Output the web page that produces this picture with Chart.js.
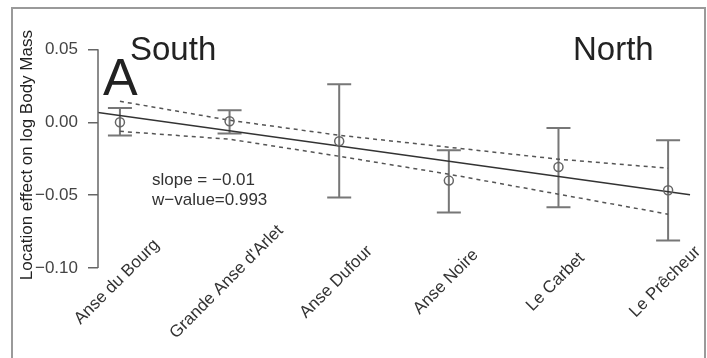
<!DOCTYPE html>
<html>
<head>
<meta charset="utf-8">
<script src="https://cdn.jsdelivr.net/npm/chart.js@4/dist/chart.umd.min.js"></script>
<style>
  html, body { margin: 0; padding: 0; background: #fff; }
</style>
</head>
<body>
<canvas id="chart" width="707" height="358"></canvas>
<script>
// sites, south to north
const sites = ['Anse du Bourg', "Grande Anse d'Arlet", 'Anse Dufour', 'Anse Noire', 'Le Carbet', 'Le Prêcheur'];

// location effect and its error bar ends
const means = [0.000, 0.0007, -0.013, -0.040, -0.0307, -0.0466];
const barHigh = [0.0098, 0.0082, 0.0261, -0.0191, -0.0039, -0.0123];
const barLow = [-0.0091, -0.0077, -0.0516, -0.0618, -0.0582, -0.081];

// regression line (ends) and its confidence band
const fitX = [-0.2, 5.2];
const fitY = [0.0068, -0.0497];
const bandHigh = [0.0144, 0.0014, -0.0089, -0.0171, -0.0253, -0.0315];
const bandLow = [-0.0062, -0.0116, -0.0233, -0.0356, -0.0493, -0.0630];

const yTicks = [-0.10, -0.05, 0, 0.05];
const yTickLabels = ['\u22120.10', '\u22120.05', '0.00', '0.05'];

const FONT = '"Liberation Sans", Arial, Helvetica, sans-serif';

const toPoints = (xs, ys) => ys.map((y, i) => ({ x: xs[i], y }));
const idx = sites.map((_, i) => i);

// 외곽선, 에러바, 축선, 글자
const decorations = {
  id: 'decorations',
  beforeDraw(chart) {
    const ctx = chart.ctx;
    ctx.save();
    ctx.strokeStyle = '#9a9a9a';
    ctx.lineWidth = 2;
    ctx.strokeRect(12, 8, 693, 360);
    ctx.restore();
  },
  beforeDatasetsDraw(chart) {
    const { ctx, scales: { x, y } } = chart;
    ctx.save();
    ctx.strokeStyle = '#777';
    ctx.lineWidth = 2;
    idx.forEach(i => {
      const px = x.getPixelForValue(i);
      const top = y.getPixelForValue(barHigh[i]);
      const bot = y.getPixelForValue(barLow[i]);
      ctx.beginPath();
      ctx.moveTo(px, top); ctx.lineTo(px, bot);
      ctx.moveTo(px - 12, top); ctx.lineTo(px + 12, top);
      ctx.moveTo(px - 12, bot); ctx.lineTo(px + 12, bot);
      ctx.stroke();
    });
    ctx.restore();
  },
  afterDraw(chart) {
    const { ctx, scales: { x, y } } = chart;
    ctx.save();
    // y axis line only over the tick range
    ctx.strokeStyle = '#666';
    ctx.lineWidth = 1.5;
    ctx.beginPath();
    ctx.moveTo(98, y.getPixelForValue(0.05));
    ctx.lineTo(98, y.getPixelForValue(-0.10));
    ctx.stroke();

    // rotated site labels
    ctx.fillStyle = '#333';
    ctx.font = '17px ' + FONT;
    ctx.textAlign = 'center';
    ctx.textBaseline = 'middle';
    sites.forEach((s, i) => {
      ctx.save();
      ctx.translate(x.getPixelForValue(i) - 3, 282);
      ctx.rotate(-Math.PI / 4);
      ctx.fillText(s, 0, 0);
      ctx.restore();
    });

    ctx.textAlign = 'left';
    ctx.textBaseline = 'alphabetic';
    ctx.fillStyle = '#222';
    ctx.font = '33px ' + FONT;
    ctx.fillText('South', 130, 60);
    ctx.fillText('North', 573, 60);
    ctx.font = '52px ' + FONT;
    ctx.fillText('A', 103, 95);

    ctx.fillStyle = '#333';
    ctx.font = '17px ' + FONT;
    ctx.fillText('slope = \u22120.01', 152, 185);
    ctx.fillText('w\u2212value=0.993', 152, 205);
    ctx.restore();
  }
};

new Chart(document.getElementById('chart'), {
  type: 'scatter',
  data: {
    datasets: [
      {
        data: toPoints(idx, means),
        pointRadius: 4.5,
        pointBorderWidth: 1.5,
        pointBorderColor: '#666',
        pointBackgroundColor: 'rgba(0,0,0,0)'
      },
      {
        data: toPoints(fitX, fitY),
        showLine: true,
        pointRadius: 0,
        borderColor: '#333',
        borderWidth: 1.5
      },
      {
        data: toPoints(idx, bandHigh),
        showLine: true,
        pointRadius: 0,
        borderColor: '#555',
        borderWidth: 1.5,
        borderDash: [4, 4]
      },
      {
        data: toPoints(idx, bandLow),
        showLine: true,
        pointRadius: 0,
        borderColor: '#555',
        borderWidth: 1.5,
        borderDash: [4, 4]
      }
    ]
  },
  options: {
    responsive: false,
    animation: false,
    layout: { padding: { top: 18.67, bottom: 68, left: 0, right: 5 } },
    plugins: { legend: { display: false }, tooltip: { enabled: false } },
    scales: {
      x: { type: 'linear', display: false, min: -0.2, max: 5.3 },
      y: {
        min: -0.115,
        max: 0.07,
        afterFit: scale => { scale.width = 98; },
        afterBuildTicks: scale => { scale.ticks = yTicks.map(v => ({ value: v })); },
        border: { display: false },
        grid: { drawOnChartArea: false, drawTicks: true, tickLength: 10, color: '#666', lineWidth: 1.5 },
        ticks: {
          padding: 10,
          color: '#444',
          font: { family: FONT, size: 17 },
          callback: v => yTickLabels[yTicks.indexOf(v)]
        },
        title: {
          display: true,
          text: 'Location effect on log Body Mass',
          color: '#222',
          font: { family: FONT, size: 17 },
          padding: { top: 17, bottom: 0 }
        }
      }
    }
  },
  plugins: [decorations]
});
</script>
</body>
</html>
